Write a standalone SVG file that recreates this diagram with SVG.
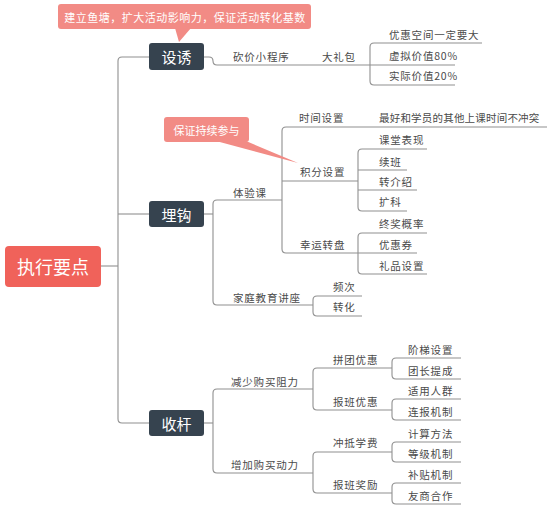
<svg xmlns="http://www.w3.org/2000/svg" width="554" height="509" viewBox="0 0 554 509">
<style>
.bg{fill:#ffffff}
.ln{fill:none;stroke:#909090;stroke-width:1.1}
.t{font-family:"Noto Sans CJK SC","Liberation Sans",sans-serif;font-size:10.5px;fill:#4a4a4a;letter-spacing:0.8px}
.tl{letter-spacing:0.2px}
.bx{fill:#36434f}
.bt{font-family:"Noto Sans CJK SC","Liberation Sans",sans-serif;font-size:15px;fill:#ffffff;text-anchor:middle;dominant-baseline:central}
.call{fill:#f28b85}
.ct{font-family:"Noto Sans CJK SC","Liberation Sans",sans-serif;font-size:11px;fill:#ffffff;text-anchor:middle;dominant-baseline:central;letter-spacing:0.5px}
</style>
<rect class="bg" x="0" y="0" width="554" height="509"/>
<g id="connectors">
<path class="ln" d="M101,266 H118"/>
<path class="ln" d="M149,57 H122 Q118,57 118,61 V419 Q118,423 122,423 H149"/>
<path class="ln" d="M118,214 H149"/>
<path class="ln" d="M204,57 H209 Q213,57 213,61 Q213,65 217,65 H370"/>
<path class="ln" d="M482,43 H374 Q370,43 370,47 V81 Q370,85 374,85 H455"/>
<path class="ln" d="M370,65 H455"/>
<path class="ln" d="M204,214 H213"/>
<path class="ln" d="M282,200 H217 Q213,200 213,204 V301 Q213,305 217,305 H313"/>
<path class="ln" d="M547,127 H286 Q282,127 282,131 V249 Q282,253 286,253 H358"/>
<path class="ln" d="M282,181 H358"/>
<path class="ln" d="M427,149 H362 Q358,149 358,153 V207 Q358,211 362,211 H407"/>
<path class="ln" d="M358,170 H407 M358,190 H417"/>
<path class="ln" d="M427,233 H362 Q358,233 358,237 V270 Q358,274 362,274 H427"/>
<path class="ln" d="M358,253 H417"/>
<path class="ln" d="M362,296 H317 Q313,296 313,300 V312 Q313,316 317,316 H362"/>
<path class="ln" d="M204,423 H213"/>
<path class="ln" d="M313,389 H217 Q213,389 213,393 V469 Q213,473 217,473 H313"/>
<path class="ln" d="M392,368 H317 Q313,368 313,372 V406 Q313,410 317,410 H392"/>
<path class="ln" d="M461,358 H396 Q392,358 392,362 V375 Q392,379 396,379 H461"/>
<path class="ln" d="M461,399 H396 Q392,399 392,403 V416 Q392,420 396,420 H461"/>
<path class="ln" d="M392,452 H317 Q313,452 313,456 V489 Q313,493 317,493 H392"/>
<path class="ln" d="M461,442 H396 Q392,442 392,446 V458 Q392,462 396,462 H461"/>
<path class="ln" d="M461,483 H396 Q392,483 392,487 V500 Q392,504 396,504 H461"/>
</g>
<g id="root">
<rect x="5" y="246" width="96" height="41" rx="4" fill="#f0625a"/>
<text class="bt" x="53" y="266" style="font-size:18px">执行要点</text>
</g>
<g id="n-sheyou">
<rect class="bx" x="149" y="43" width="55" height="27" rx="3"/>
<text class="bt" x="176.5" y="56.5">设诱</text>
</g>
<g id="n-maigou">
<rect class="bx" x="149" y="201" width="55" height="26" rx="3"/>
<text class="bt" x="176.5" y="214">埋钩</text>
</g>
<g id="n-shougan">
<rect class="bx" x="149" y="410" width="55" height="26" rx="3"/>
<text class="bt" x="176.5" y="423">收杆</text>
</g>
<g id="callout-1">
<rect class="call" x="58" y="4" width="253" height="25" rx="3"/>
<path class="call" d="M175,28 L179,42 L191,28 Z"/>
<text class="ct" x="185" y="16.5">建立鱼塘，扩大活动影响力，保证活动转化基数</text>
</g>
<g id="callout-2">
<rect class="call" x="164" y="117" width="85" height="25" rx="3"/>
<path class="call" d="M216,141 L298,163 L246,141 Z"/>
<text class="ct" x="206.5" y="129.5" style="letter-spacing:0">保证持续参与</text>
</g>
<g id="labels">
<text class="t" x="233" y="61">砍价小程序</text>
<text class="t" x="322" y="61">大礼包</text>
<text class="t" x="389" y="39">优惠空间一定要大</text>
<text class="t" x="389" y="60">虚拟价值80%</text>
<text class="t" x="389" y="80">实际价值20%</text>
<text class="t" x="233" y="197">体验课</text>
<text class="t" x="299" y="122">时间设置</text>
<text class="t tl" x="379" y="122">最好和学员的其他上课时间不冲突</text>
<text class="t" x="300" y="176">积分设置</text>
<text class="t" x="379" y="144">课堂表现</text>
<text class="t" x="379" y="166">续班</text>
<text class="t" x="379" y="186">转介绍</text>
<text class="t" x="379" y="206">扩科</text>
<text class="t" x="300" y="249">幸运转盘</text>
<text class="t" x="379" y="228">终奖概率</text>
<text class="t" x="379" y="249">优惠券</text>
<text class="t" x="379" y="270">礼品设置</text>
<text class="t" x="233" y="302">家庭教育讲座</text>
<text class="t" x="333" y="291">频次</text>
<text class="t" x="333" y="311">转化</text>
<text class="t" x="231" y="386">减少购买阻力</text>
<text class="t" x="333" y="364">拼团优惠</text>
<text class="t" x="408" y="354">阶梯设置</text>
<text class="t" x="408" y="375">团长提成</text>
<text class="t" x="333" y="406">报班优惠</text>
<text class="t" x="408" y="395">适用人群</text>
<text class="t" x="408" y="416">连报机制</text>
<text class="t" x="231" y="469">增加购买动力</text>
<text class="t" x="333" y="447">冲抵学费</text>
<text class="t" x="408" y="438">计算方法</text>
<text class="t" x="408" y="458">等级机制</text>
<text class="t" x="333" y="489">报班奖励</text>
<text class="t" x="408" y="479">补贴机制</text>
<text class="t" x="408" y="500">友商合作</text>
</g>
</svg>
